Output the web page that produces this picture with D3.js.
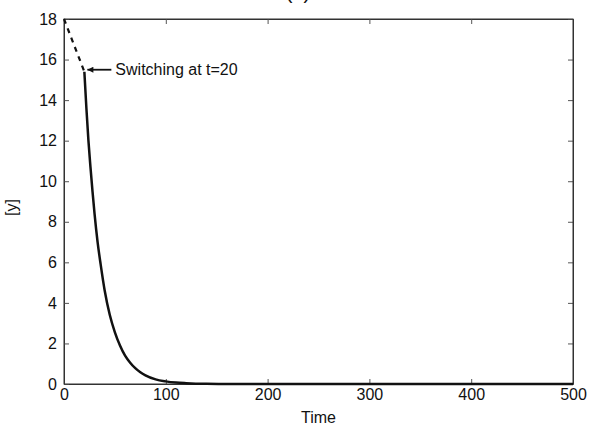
<!DOCTYPE html>
<html>
<head>
<meta charset="utf-8">
<script src="https://cdn.jsdelivr.net/npm/d3@7"></script>
<style>
  body { margin: 0; background: #fff; }
  text { font-family: "Liberation Sans", Arial, sans-serif; fill: #111; }
</style>
</head>
<body>
<script>
// before switching (dashed part)
const tBefore = [0, 20];
const yBefore = [18, 15.4];

// after switching at t=20 (solid part)
const tAfter = [20, 22, 24, 26, 28, 30, 33, 36, 40, 45, 50, 55, 60, 65, 70, 75, 80, 90, 100, 110, 120, 140, 160, 200, 300, 400, 500];
const yAfter = [15.4, 13.6, 12.0, 10.7, 9.5, 8.4, 7.0, 5.9, 4.6, 3.4, 2.55, 1.9, 1.4, 1.05, 0.78, 0.58, 0.43, 0.23, 0.13, 0.07, 0.04, 0.01, 0.003, 0, 0, 0, 0];

const xTicks = [0, 100, 200, 300, 400, 500];
const yTicks = [0, 2, 4, 6, 8, 10, 12, 14, 16, 18];

const outerWidth = 589;
const outerHeight = 426;
const margin = {top: 19, right: 16, bottom: 42, left: 64};
const width = outerWidth - margin.left - margin.right;
const height = outerHeight - margin.top - margin.bottom;

const svg = d3.select("body").append("svg")
    .attr("width", outerWidth)
    .attr("height", outerHeight);

// title, mostly cut off at the top edge like in the scan
svg.append("text")
    .attr("x", 298).attr("y", -1)
    .attr("text-anchor", "middle")
    .style("font-size", "20px")
    .text("(a)");

const g = svg.append("g")
    .attr("transform", `translate(${margin.left},${margin.top})`);

const xScale = d3.scaleLinear().domain([0, 500]).range([0, width]);
const yScale = d3.scaleLinear().domain([0, 18]).range([height, 0]);

// matlab style: ticks inside on all four sides
const tickLen = 5;
g.append("g")
    .attr("transform", `translate(0,${height})`)
    .call(d3.axisBottom(xScale).tickValues(xTicks).tickSizeInner(-tickLen).tickSizeOuter(0).tickPadding(5))
    .call(a => a.selectAll("text").style("font-size", "16px").attr("dy", "0.7em"));
g.append("g")
    .call(d3.axisTop(xScale).tickValues(xTicks).tickSizeInner(-tickLen).tickSizeOuter(0).tickFormat(""));
g.append("g")
    .call(d3.axisLeft(yScale).tickValues(yTicks).tickSizeInner(-tickLen).tickSizeOuter(0).tickPadding(7))
    .call(a => a.selectAll("text").style("font-size", "16px"));
g.append("g")
    .attr("transform", `translate(${width},0)`)
    .call(d3.axisRight(yScale).tickValues(yTicks).tickSizeInner(-tickLen).tickSizeOuter(0).tickFormat(""));

g.selectAll(".domain").attr("stroke", "#333");
g.selectAll(".tick line").attr("stroke", "#555");

// frame
g.append("rect")
    .attr("width", width).attr("height", height)
    .attr("fill", "none").attr("stroke", "#333").attr("stroke-width", 1);

const line = d3.line()
    .x(d => xScale(d[0]))
    .y(d => yScale(d[1]));

g.append("path")
    .datum(d3.zip(tBefore, yBefore))
    .attr("fill", "none")
    .attr("stroke", "#111")
    .attr("stroke-width", 2.2)
    .attr("stroke-dasharray", "5,5")
    .attr("d", line);

g.append("path")
    .datum(d3.zip(tAfter, yAfter))
    .attr("fill", "none")
    .attr("stroke", "#111")
    .attr("stroke-width", 2.5)
    .attr("d", d3.line().x(d => xScale(d[0])).y(d => yScale(d[1])).curve(d3.curveMonotoneX));

// annotation arrow
const tipX = xScale(20) + 3, tipY = yScale(15.4) - 2;
svg.append("defs").append("marker")
    .attr("id", "arrow")
    .attr("viewBox", "0 0 10 10")
    .attr("refX", 10).attr("refY", 5)
    .attr("markerWidth", 8).attr("markerHeight", 6)
    .attr("markerUnits", "userSpaceOnUse")
    .attr("orient", "auto")
    .append("path").attr("d", "M0,0L10,5L0,10Z").attr("fill", "#111");
g.append("line")
    .attr("x1", tipX + 24).attr("y1", tipY)
    .attr("x2", tipX).attr("y2", tipY)
    .attr("stroke", "#111").attr("stroke-width", 1.8)
    .attr("marker-end", "url(#arrow)");
g.append("text")
    .attr("x", tipX + 28).attr("y", tipY + 5)
    .style("font-size", "16px")
    .text("Switching at t=20");

// axis labels
svg.append("text")
    .attr("x", margin.left + width / 2).attr("y", 423)
    .attr("text-anchor", "middle")
    .style("font-size", "16px")
    .text("Time");
svg.append("text")
    .attr("transform", `translate(17,${margin.top + height / 2 + 6}) rotate(-90)`)
    .attr("text-anchor", "middle")
    .style("font-size", "16px")
    .text("[y]");
</script>
</body>
</html>
